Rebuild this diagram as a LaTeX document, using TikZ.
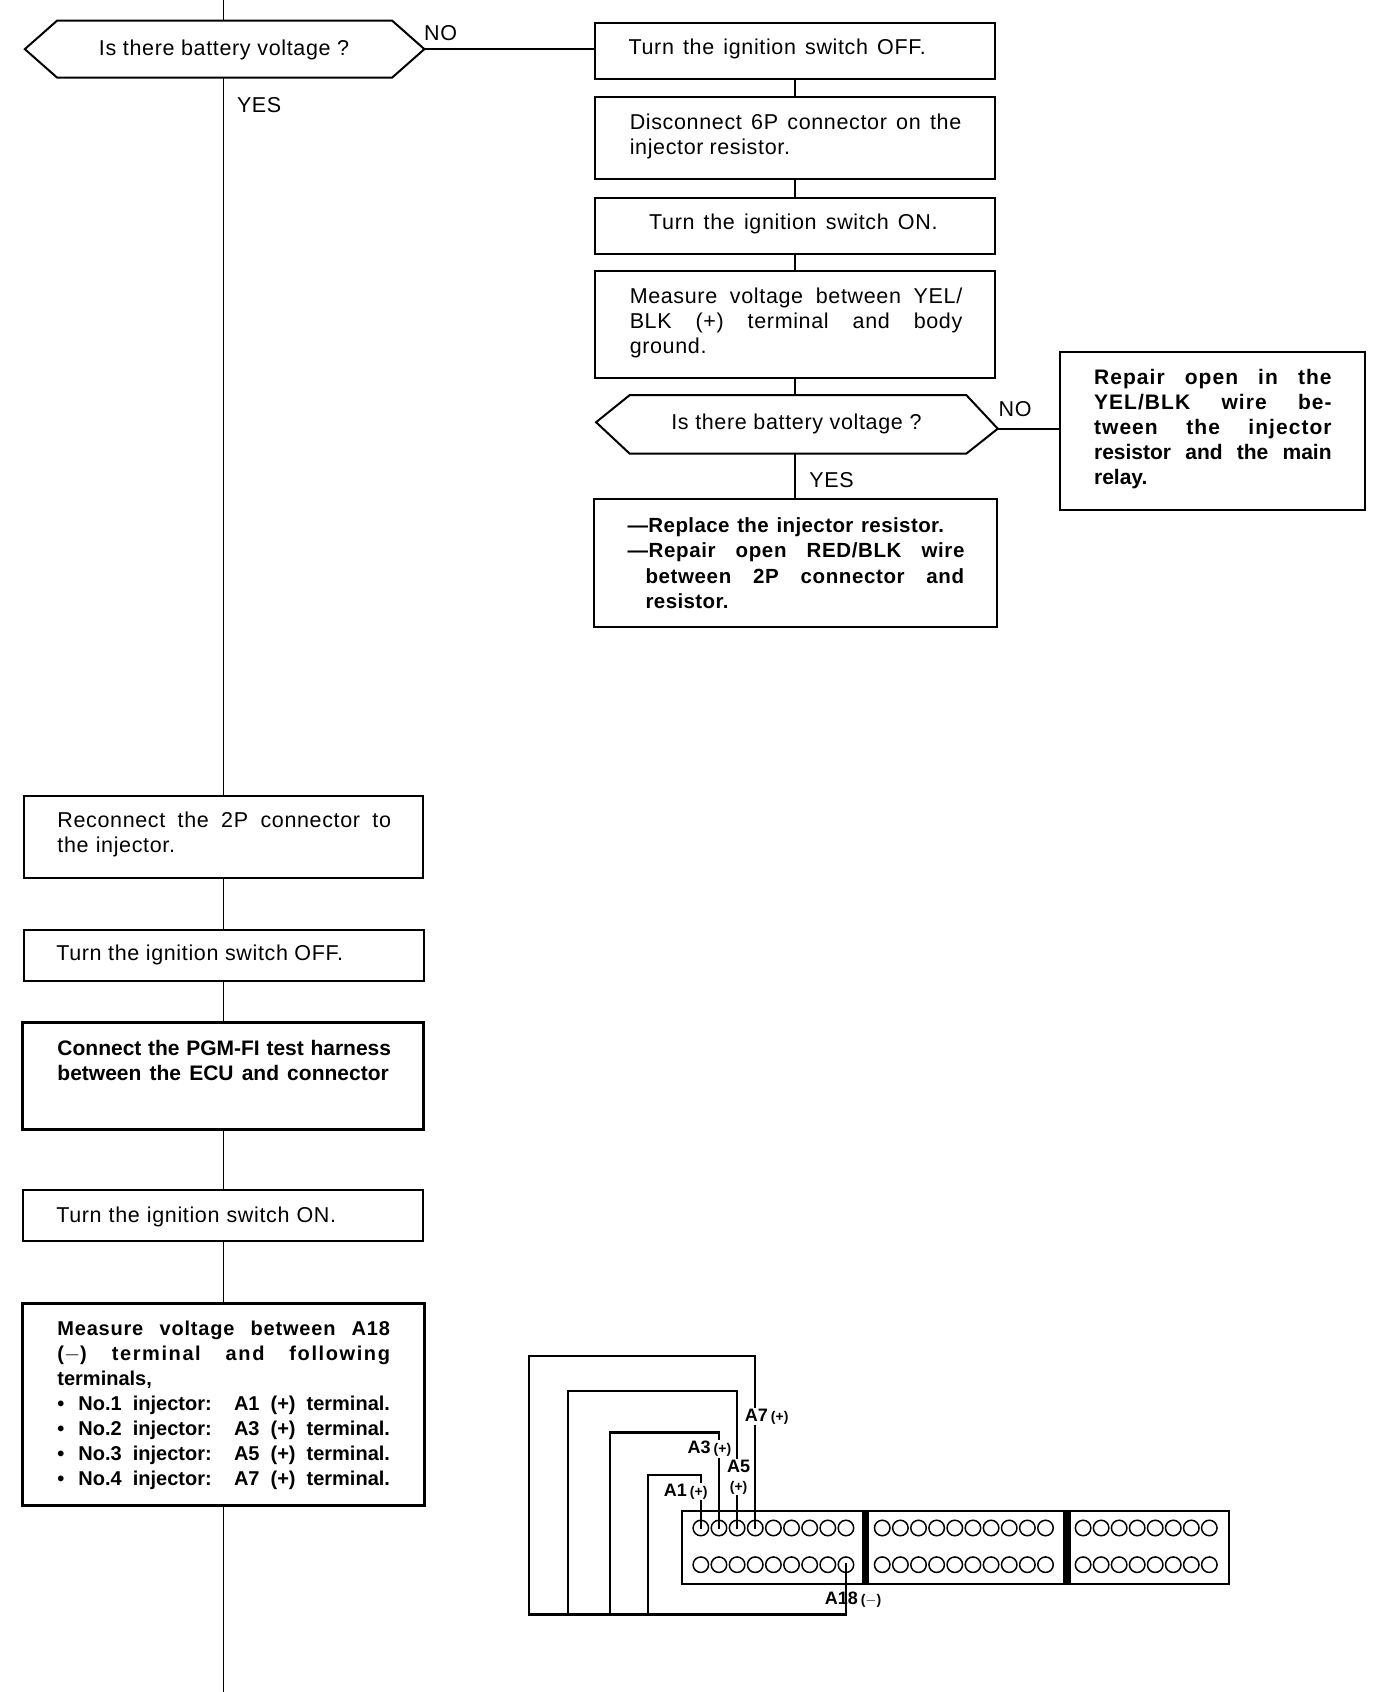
\documentclass[tikz,border=0pt]{standalone}
\usepackage{fontspec}
\setmainfont{Liberation Sans}
\usetikzlibrary{fit,calc}
\newcommand\jl[2]{\leavevmode\hbox to 1.0798\dimexpr#1pt\relax{\spaceskip=.278em plus 1fil minus .16em\relax #2\hss}}
\newcommand\jf[2]{\leavevmode\hbox to 1.0798\dimexpr#1pt\relax{\spaceskip=.278em plus 1fil minus .16em\relax #2}}
\newcommand\wide{\addfontfeature{LetterSpace=3}}
\tikzset{
  stepbox/.style={draw=black,line width=2pt,inner sep=0pt,outer sep=0pt,rectangle},
  txt/.style={anchor=west,inner sep=0pt,align=left,font=\fontsize{21.5}{25}\selectfont\wide},
  txtb/.style={txt,font=\fontsize{21}{25}\bfseries\selectfont},
  tag/.style={inner sep=0pt,font=\fontsize{21.5}{25}\selectfont\wide},
  flow/.style={draw=black,line width=1.7pt},
  hexbox/.style={inner sep=0pt,outer sep=0pt},
  hexline/.style={draw=black,line width=2pt,line join=miter},
  wire/.style={draw=black,line width=2pt,line cap=rect},
  hole/.style={circle,draw=black,line width=1.5pt,minimum size=15.5pt,inner sep=0pt,outer sep=0pt},
  pin/.style={inner sep=1pt,fill=white,align=center,font=\fontsize{18}{19}\bfseries\selectfont},
}
\newcommand\plus{{\fontsize{14}{15}\selectfont(+)}}
\begin{document}
\begin{tikzpicture}[x=1.0798pt,y=-1.0798pt]
\useasboundingbox[fill=white] (0,0) rectangle (1274.3,1566.9);
% flow boxes
\node[stepbox,fit={(551,21)(921,73)}] (b1) {};
\node[stepbox,fit={(551,90)(921,166)}] (b2) {};
\node[stepbox,fit={(551,183)(921,235)}] (b3) {};
\node[stepbox,fit={(551,251)(921,350)}] (b4) {};
\node[stepbox,fit={(982,326)(1264,472)}] (b5) {};
\node[stepbox,fit={(550,462)(923,581)}] (b6) {};
\node[stepbox,fit={(22,737)(392,813)}] (c1) {};
\node[stepbox,fit={(22,861)(393,908)}] (c2) {};
\node[stepbox,line width=2.4pt,fit={(21,947)(392,1046)}] (c3) {};
\node[stepbox,fit={(21,1102)(392,1149)}] (c4) {};
\node[stepbox,line width=2.4pt,fit={(21,1207)(393,1394)}] (c5) {};
% decision hexagons
\node[hexbox,fit={(23,19)(393,72)}] (d1) {};
\node[hexbox,fit={(552,366)(924,420)}] (d2) {};
\coordinate (d2w) at (552,391);
\coordinate (d2e) at (924,397);
\draw[hexline] (d1.west) -- ($(d1.north west)+(30,0)$) -- ($(d1.north east)+(-30,0)$) -- (d1.east) -- ($(d1.south east)+(-30,0)$) -- ($(d1.south west)+(30,0)$) -- cycle;
\draw[hexline] (d2w) -- ($(d2.north west)+(31,0)$) -- ($(d2.north east)+(-29,0)$) -- (d2e) -- ($(d2.south east)+(-29,0)$) -- ($(d2.south west)+(31,0)$) -- cycle;
\node[tag] (d1t) at (207.5,46) {Is there battery voltage ?};
\node[tag] (d2t) at (737.5,392.5) {Is there battery voltage ?};
% connectors
\coordinate (top) at (207,0);
\coordinate (bot) at (207,1566.9);
\draw[flow] (top) -- (top |- d1.north);
\draw[flow] (top |- d1.south) -- (top |- c1.north);
\draw[flow] (top |- c1.south) -- (top |- c2.north);
\draw[flow] (top |- c2.south) -- (top |- c3.north);
\draw[flow] (top |- c3.south) -- (top |- c4.north);
\draw[flow] (top |- c4.south) -- (top |- c5.north);
\draw[flow] (top |- c5.south) -- (bot);
\draw[flow,line width=2.2pt] (d1.east) -- (d1.east -| b1.west);
\draw[flow] (b1.south) -- (b2.north);
\draw[flow] (b2.south) -- (b3.north);
\draw[flow] (b3.south) -- (b4.north);
\draw[flow] (b4.south) -- (b4.south |- d2.north);
\draw[flow] (b4.south |- d2.south) -- (b6.north -| b4.south);
\draw[flow,line width=2.2pt] (d2e) -- (d2e -| b5.west);
% tags
\node[tag] (no1) at (408,31) {NO};
\node[tag] (yes1) at (240,97) {YES};
\node[tag] (no2) at (940,379) {NO};
\node[tag] (yes2) at (770,445) {YES};
% texts
\node[txt] (t1) at (582,45.5) {\jl{278}{Turn the ignition switch OFF.}};
\node[txt] (t2) at (583,126.5) {\jf{307}{Disconnect 6P connector on the}\\\jl{147}{injector resistor.}};
\node[txt] (t3) at (601,207.5) {\jl{270}{Turn the ignition switch ON.}};
\node[txt] (t4) at (583,299.5) {\jf{308}{Measure voltage between YEL/}\\\jf{308}{BLK (+) terminal and body}\\\jl{70}{ground.}};
\node[txtb] (t5) at (1013,397) {\jf{220}{\addfontfeature{LetterSpace=5}Repair open in the}\\\jf{220}{\addfontfeature{LetterSpace=5}YEL/BLK wire be-}\\\jf{220}{\addfontfeature{LetterSpace=5}tween the injector}\\\jf{220}{resistor and the main}\\\jl{57}{relay.}};
\node[txtb,font=\fontsize{20.5}{25.6}\bfseries\selectfont] (t6) at (581,521.5) {\jl{295}{\addfontfeature{LetterSpace=2}---Replace the injector resistor.}\\\jf{312}{\addfontfeature{LetterSpace=3}---Repair open RED/BLK wire}\\\hspace*{18pt}\jf{295}{\addfontfeature{LetterSpace=3}between 2P connector and}\\\hspace*{18pt}\jl{77}{\addfontfeature{LetterSpace=2}resistor.}};
\node[txt] (u1) at (53,773) {\jf{309}{Reconnect the 2P connector to}\\\jl{110}{the injector.}};
\node[txt] (u2) at (52,884.5) {\jl{266}{Turn the ignition switch OFF.}};
\node[txtb] (u3) at (53,982.5) {\jf{309}{Connect the PGM-FI test harness}\\\jl{309}{between the ECU and connector}};
\node[txt] (u4) at (52,1126.5) {\jl{260}{Turn the ignition switch ON.}};
\node[txtb,font=\fontsize{20}{25}\bfseries\selectfont] (u5) at (53,1301) {\jf{308}{\addfontfeature{LetterSpace=4}Measure voltage between A18}\\\jf{308}{\addfontfeature{LetterSpace=8}($-$) terminal and following}\\\jl{84}{terminals,}\\\jf{308}{\textbullet\hspace{3pt} No.1 injector:\hspace{4pt} A1 (+) terminal.}\\\jf{308}{\textbullet\hspace{3pt} No.2 injector:\hspace{4pt} A3 (+) terminal.}\\\jf{308}{\textbullet\hspace{3pt} No.3 injector:\hspace{4pt} A5 (+) terminal.}\\\jf{308}{\textbullet\hspace{3pt} No.4 injector:\hspace{4pt} A7 (+) terminal.}};
% connector block
\node[stepbox,fit={(632,1399)(1138,1467)}] (block) {};
\coordinate (div1t) at (801.5,1399); \coordinate (div1b) at (801.5,1467);
\coordinate (div2t) at (988,1399); \coordinate (div2b) at (988,1467);
\draw[draw=black,line width=7.5pt] (div1t) -- (div1b);
\draw[draw=black,line width=7.5pt] (div2t) -- (div2b);
\foreach \i in {1,...,9} {
  \node[hole] (p\i) at ({649+(\i-1)*16.8},1415) {};
  \node[hole] (q\i) at ({649+(\i-1)*16.8},1449) {};
}
\foreach \i in {1,...,10} {
  \node[hole] (r\i) at ({817+(\i-1)*16.8},1415) {};
  \node[hole] (s\i) at ({817+(\i-1)*16.8},1449) {};
}
\foreach \i in {1,...,8} {
  \node[hole] (v\i) at ({1003+(\i-1)*16.7},1415) {};
  \node[hole] (w\i) at ({1003+(\i-1)*16.7},1449) {};
}
% wires
\coordinate (busw) at (490,1495);
\coordinate (a7t) at (490,1256);
\coordinate (a5c) at (526,1495);
\coordinate (a5t) at (526,1288);
\coordinate (a3c) at (565,1495);
\coordinate (a3t) at (565,1327);
\coordinate (a1c) at (600,1495);
\coordinate (a1t) at (600,1366);
\draw[wire,line width=2.6pt] (q9.center) -- (q9.center |- busw) -- (busw);
\draw[wire] (busw) -- (a7t) -- (a7t -| p4.center) -- (p4.center);
\draw[wire] (a5c) -- (a5t) -- (a5t -| p3.center) -- (p3.center);
\draw[wire] (a3c) -- (a3t) -- (a3t -| p2.center) -- (p2.center);
\draw[wire,line width=3pt] (a3t) -- (a3t -| p2.center);
\draw[wire] (a1c) -- (a1t) -- (a1t -| p1.center) -- (p1.center);
% pin labels
\node[pin] (l7) at (710,1312) {A7\,\plus};
\node[pin] (l3) at (657,1342) {A3\,\plus};
\node[pin] (l5) at (684,1368) {A5\\\plus};
\node[pin] (l1) at (635,1381) {A1\,\plus};
\node[pin,fill=none] (l18) at (790,1481) {A18\,{\fontsize{14}{15}\selectfont($-$)}};
\end{tikzpicture}
\end{document}
